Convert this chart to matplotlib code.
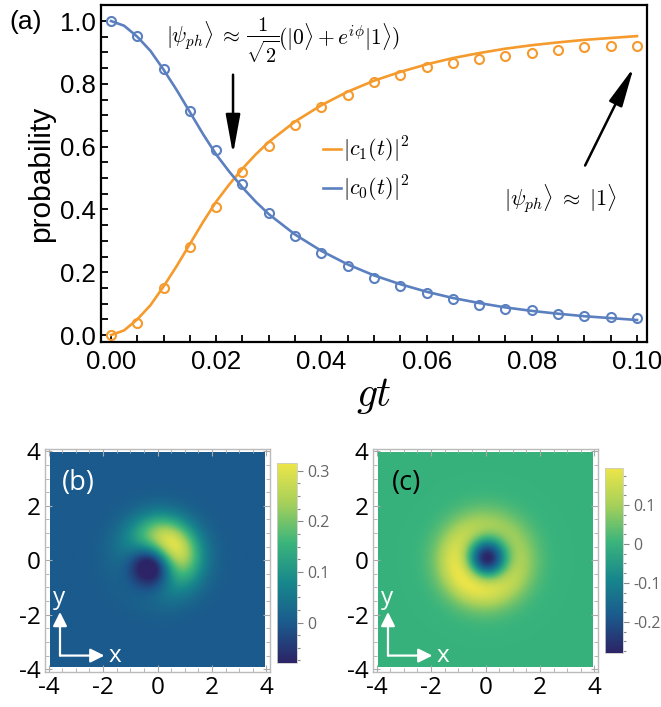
import numpy as np
import matplotlib
matplotlib.use("Agg")
import matplotlib.pyplot as plt
from matplotlib.colors import LinearSegmentedColormap
from matplotlib.ticker import MultipleLocator

plt.rcParams['font.family'] = ['Open Sans', 'DejaVu Sans']
plt.rcParams['mathtext.fontset'] = 'cm'

# ---- panel (a): populations vs gt ----
gt_line = [0.0, 0.0025, 0.005, 0.0075, 0.01, 0.0125, 0.015, 0.0175, 0.02, 0.0225,
           0.025, 0.0275, 0.03, 0.035, 0.04, 0.045, 0.05, 0.055, 0.06, 0.065,
           0.07, 0.075, 0.08, 0.085, 0.09, 0.095, 0.10]
c0_line = [1.0, 0.985, 0.95, 0.905, 0.845, 0.78, 0.71, 0.64, 0.575, 0.52,
           0.47, 0.425, 0.385, 0.32, 0.268, 0.225, 0.19, 0.162, 0.138, 0.118,
           0.102, 0.088, 0.077, 0.068, 0.06, 0.054, 0.048]
c1_line = [0.0, 0.015, 0.05, 0.095, 0.155, 0.22, 0.29, 0.36, 0.425, 0.48,
           0.53, 0.575, 0.615, 0.68, 0.732, 0.775, 0.81, 0.838, 0.862, 0.882,
           0.898, 0.912, 0.923, 0.932, 0.94, 0.946, 0.952]

gt_pts = [0.0, 0.005, 0.01, 0.015, 0.02, 0.025, 0.03, 0.035, 0.04, 0.045, 0.05,
          0.055, 0.06, 0.065, 0.07, 0.075, 0.08, 0.085, 0.09, 0.095, 0.10]
c0_pts = [1.0, 0.952, 0.847, 0.713, 0.59, 0.482, 0.39, 0.316, 0.262, 0.22, 0.182,
          0.157, 0.133, 0.115, 0.097, 0.084, 0.079, 0.066, 0.061, 0.056, 0.055]
c1_pts = [0.0, 0.04, 0.15, 0.28, 0.407, 0.518, 0.603, 0.67, 0.725, 0.766, 0.805,
          0.828, 0.853, 0.866, 0.878, 0.889, 0.897, 0.908, 0.918, 0.919, 0.92]

# ---- panels (b), (c): Wigner functions in the {|0>,|1>} basis ----
# populations p0, p1, coherence magnitude and phase (degrees)
state_b = dict(p0=0.5, p1=0.5, coh=0.5, phase=45)
state_c = dict(p0=0.076, p1=0.924, coh=0.2, phase=225)
range_b = (-0.08, 0.315)
range_c = (-0.28, 0.195)
ticks_b = [0, 0.1, 0.2, 0.3]
ticks_c = [-0.2, -0.1, 0, 0.1]

orange = '#f59a2c'
blue = '#5b80bf'
sans_a = ['Liberation Sans', 'DejaVu Sans']

cmap = LinearSegmentedColormap.from_list('wig', [
    (0.0, '#2c2466'), (0.2, '#1b5a8d'), (0.4, '#17878c'),
    (0.6, '#3ab47c'), (0.8, '#a6d05a'), (1.0, '#ede548')])

W, H = 661, 707
fig = plt.figure(figsize=(W / 100, H / 100), dpi=100)

ax = fig.add_axes([0.1528, 0.5163, 0.826, 0.4766])
ax.plot(gt_line, c1_line, color=orange, lw=1.9, label=r'$|c_1(t)|^2$')
ax.plot(gt_line, c0_line, color=blue, lw=1.9, label=r'$|c_0(t)|^2$')
ax.plot(gt_pts, c1_pts, 'o', mfc='none', mec=orange, ms=6.5, mew=1.5)
ax.plot(gt_pts, c0_pts, 'o', mfc='none', mec=blue, ms=6.5, mew=1.5)
ax.set_xlim(-0.0019, 0.1019)
ax.set_ylim(-0.022, 1.051)
ax.xaxis.set_major_locator(MultipleLocator(0.02))
ax.xaxis.set_minor_locator(MultipleLocator(0.005))
ax.yaxis.set_major_locator(MultipleLocator(0.2))
ax.yaxis.set_minor_locator(MultipleLocator(0.05))
ax.xaxis.set_major_formatter(plt.FormatStrFormatter('%.2f'))
ax.yaxis.set_major_formatter(plt.FormatStrFormatter('%.1f'))
ax.tick_params(which='both', direction='in', length=5, width=1.3, labelsize=18.5)
ax.tick_params(axis='x', pad=6)
for lab in ax.get_xticklabels() + ax.get_yticklabels():
    lab.set_family(sans_a)
for s in ax.spines.values():
    s.set_linewidth(1.6)
ax.set_ylabel('probability', fontsize=21.5, labelpad=4, family=sans_a)
ax.set_xlabel(r'$gt$', fontsize=30, labelpad=0)
ax.text(-0.168, 0.95, '(a)', transform=ax.transAxes, fontsize=19, va='center',
        family=sans_a)

arrow_kw = dict(arrowstyle='-|>,head_length=1.2,head_width=0.22',
                color='black', lw=1.8, mutation_scale=20)
ax.annotate('', xy=(0.0232, 0.567), xytext=(0.0232, 0.838), arrowprops=arrow_kw)
ax.annotate('', xy=(0.0996, 0.86), xytext=(0.0899, 0.532), arrowprops=arrow_kw)

# superposition label, built in three parts so the fraction is display sized
fig.text(166 / W, 1 - 36 / H, r'$|\psi_{ph}\rangle \;\approx$', fontsize=15.5,
         ha='left', va='center')
fig.text(263 / W, 1 - 40 / H, r'$\frac{1}{\sqrt{2}}$', fontsize=21,
         ha='center', va='center')
fig.text(278 / W, 1 - 37 / H, r'$(|0\rangle + e^{i\phi}|1\rangle)$', fontsize=15.5,
         ha='left', va='center')
ax.text(0.0854, 0.436, r'$|\psi_{ph}\rangle \;\approx\; |1\rangle$',
        fontsize=16, ha='center', va='center')
ax.legend(loc='upper left', bbox_to_anchor=(0.39, 0.64), frameon=False,
          fontsize=16, handlelength=0.8, handletextpad=0.1, labelspacing=0.4,
          borderaxespad=0)


def wigner(st, x, y):
    r2 = x ** 2 + y ** 2
    ph = np.deg2rad(st['phase'])
    core = st['p0'] + st['p1'] * (2 * r2 - 1) \
        + 2 * np.sqrt(2) * st['coh'] * (x * np.cos(ph) + y * np.sin(ph))
    return np.exp(-r2) * core / np.pi


grid = np.linspace(-3.93, 3.93, 300)
X, Y = np.meshgrid(grid, grid)


def density_panel(rect, crect, st, vr, ticks, label, label_color):
    a = fig.add_axes(rect)
    im = a.imshow(wigner(st, X, Y), origin='lower', extent=(-3.93, 3.93, -3.93, 3.93),
                  cmap=cmap, vmin=vr[0], vmax=vr[1], interpolation='bilinear')
    a.set_xlim(-4.13, 4.13)
    a.set_ylim(-4.1, 4.08)
    a.set_xticks([-4, -2, 0, 2, 4])
    a.set_yticks([-4, -2, 0, 2, 4])
    a.set_xticklabels(['-4', '-2', '0', '2', '4'])
    a.set_yticklabels(['-4', '-2', '0', '2', '4'])
    a.xaxis.set_minor_locator(MultipleLocator(0.5))
    a.yaxis.set_minor_locator(MultipleLocator(0.5))
    a.tick_params(which='both', direction='in', color='#aaaaaa', top=True, right=True,
                  labelsize=17.5, pad=3)
    a.tick_params(which='major', length=5)
    a.tick_params(which='minor', length=3)
    for s in a.spines.values():
        s.set_color('#bbbbbb')
        s.set_linewidth(1)
    a.text(-2.9, 2.85, label, color=label_color, fontsize=19.5, ha='center', va='center')
    # coordinate arrows
    kw = dict(arrowstyle='-|>,head_length=0.6,head_width=0.3', color='white', lw=1.6,
              mutation_scale=14, shrinkA=0, shrinkB=0)
    a.annotate('', xy=(-3.58, -1.9), xytext=(-3.58, -3.5), arrowprops=kw)
    a.annotate('', xy=(-1.95, -3.5), xytext=(-3.58, -3.5), arrowprops=kw)
    a.text(-3.6, -1.4, 'y', color='white', fontsize=17.5, ha='center', va='center')
    a.text(-1.55, -3.5, 'x', color='white', fontsize=17.5, ha='center', va='center')

    ca = fig.add_axes(crect)
    cb = fig.colorbar(im, cax=ca, ticks=ticks)
    cb.ax.set_yticklabels([('%g' % t) for t in ticks])
    cb.ax.yaxis.set_minor_locator(MultipleLocator(0.025))
    cb.ax.tick_params(which='both', colors='#888888', labelcolor='#666666',
                      labelsize=11.5, width=0.8)
    cb.ax.tick_params(which='major', length=4)
    cb.ax.tick_params(which='minor', length=2)
    cb.outline.set_edgecolor('#cccccc')
    cb.outline.set_linewidth(0.6)


density_panel([0.0681, 0.0481, 0.3404, 0.3182], [0.419, 0.0622, 0.0303, 0.283],
              state_b, range_b, ticks_b, '(b)', 'white')
density_panel([0.5643, 0.0481, 0.3404, 0.3182], [0.9153, 0.0764, 0.0272, 0.2617],
              state_c, range_c, ticks_c, '(c)', 'black')

fig.savefig('out.png', dpi=100)
